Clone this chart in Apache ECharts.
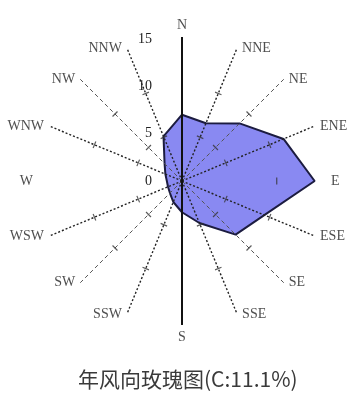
<!DOCTYPE html>
<html>
<head>
<meta charset="utf-8">
<script src="https://cdn.jsdelivr.net/npm/echarts@6/dist/echarts.min.js"></script>
<style>
  html, body { margin: 0; padding: 0; background: #ffffff; }
  #chart { width: 352px; height: 397px; }
</style>
</head>
<body>
<div id="chart"></div>
<script>
// Sixteen compass directions, clockwise from north
const directions = ['N', 'NNE', 'NE', 'ENE', 'E', 'ESE', 'SE', 'SSE', 'S', 'SSW', 'SW', 'WSW', 'W', 'WNW', 'NW', 'NNW'];
// Annual wind direction frequency (%)
const frequencies = [7.0, 6.6, 8.6, 11.6, 14.0, 9.4, 8.0, 4.8, 3.3, 2.4, 1.8, 1.6, 1.6, 1.9, 2.6, 5.1];
// Scale labels along the north axis (%)
const radiusLabels = [0, 5, 10, 15];
// Tick marks drawn across each spoke (%)
const spokeTickValues = [5, 10];
// Calm frequency shown in the title
const calmText = 'C:11.1%';
const titleText = '年风向玫瑰图(' + calmText + ')';

const axisMax = 15.2;
const solidDirs = ['N', 'S'];
const noSpokeDirs = ['W', 'E'];
const diagonalDirs = ['NE', 'SE', 'SW', 'NW'];
const serif = 'Liberation Serif';

// Compass bearing (degrees clockwise from north) of each direction
const bearing = (i) => i * 360 / directions.length;

const series = [];

// Wind rose polygon, closed back to north at 360 degrees
const roseData = directions.map((d, i) => [frequencies[i], bearing(i)]);
roseData.push([frequencies[0], 360]);
series.push({
  type: 'line',
  coordinateSystem: 'polar',
  clip: false,
  z: 2,
  symbol: 'none',
  silent: true,
  data: roseData,
  lineStyle: { color: '#1c1c40', width: 2 },
  areaStyle: { color: '#8989f2', opacity: 1 }
});

// Dashed spokes
directions.forEach((d, i) => {
  if (solidDirs.includes(d) || noSpokeDirs.includes(d)) return;
  const diag = diagonalDirs.includes(d);
  series.push({
    type: 'line',
    coordinateSystem: 'polar',
    clip: false,
    z: 3,
    symbol: 'none',
    silent: true,
    data: [[0, bearing(i)], [axisMax, bearing(i)]],
    lineStyle: diag
      ? { color: '#555555', width: 1, type: [4, 3] }
      : { color: '#222222', width: 1.4, type: [2, 2] }
  });
});

// Solid north-south line
series.push({
  type: 'line',
  coordinateSystem: 'polar',
  clip: false,
  z: 4,
  symbol: 'none',
  silent: true,
  data: [[axisMax, bearing(0)], [0, bearing(0)], [axisMax, bearing(8)]],
  lineStyle: { color: '#111111', width: 2 }
});

// Cross ticks on spokes (east keeps only its outer tick)
const tickData = [];
directions.forEach((d, i) => {
  if (solidDirs.includes(d) || d === 'W') return;
  spokeTickValues.forEach((v) => {
    if (d === 'E' && v < 10) return;
    tickData.push({ value: [v, bearing(i)], symbolRotate: 90 - bearing(i) });
  });
});
series.push({
  type: 'scatter',
  coordinateSystem: 'polar',
  clip: false,
  z: 5,
  silent: true,
  symbol: 'rect',
  symbolSize: [1.2, 7],
  itemStyle: { color: '#333333' },
  data: tickData
});

// Direction names at the spoke ends
series.push({
  type: 'scatter',
  coordinateSystem: 'polar',
  clip: false,
  z: 6,
  silent: true,
  symbolSize: 0,
  data: directions.map((d, i) => {
    const deg = bearing(i);
    const pos = deg === 0 ? 'top' : deg === 180 ? 'bottom' : deg < 180 ? 'right' : 'left';
    return { value: [axisMax, deg], name: d, label: { position: pos } };
  }),
  label: {
    show: true,
    distance: 5,
    formatter: (p) => p.name,
    fontFamily: serif,
    fontSize: 14,
    color: '#222222'
  }
});

const chart = echarts.init(document.getElementById('chart'));
chart.setOption({
  animation: false,
  backgroundColor: '#ffffff',
  title: {
    text: titleText,
    left: 78,
    top: 369,
    padding: 0,
    textStyle: { fontFamily: 'Noto Sans CJK SC', fontSize: 21, fontWeight: 'normal', color: '#3a3a3a' }
  },
  polar: { center: [182, 181], radius: 144 },
  angleAxis: {
    type: 'value',
    min: 0,
    max: 360,
    startAngle: 90,
    clockwise: true,
    axisLine: { show: false },
    axisTick: { show: false },
    axisLabel: { show: false },
    splitLine: { show: false }
  },
  radiusAxis: {
    min: 0,
    max: axisMax,
    interval: 5,
    axisLine: { show: false },
    axisTick: { show: false },
    splitLine: { show: false },
    axisLabel: {
      margin: 30,
      formatter: (v) => (radiusLabels.includes(v) ? String(v) : ''),
      fontFamily: serif,
      fontSize: 14,
      color: '#222222'
    }
  },
  series: series
});
</script>
</body>
</html>
